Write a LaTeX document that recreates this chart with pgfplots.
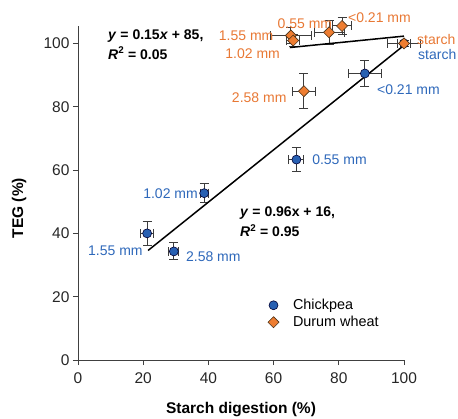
\documentclass[border=0pt]{standalone}
\usepackage{pgfplots}
\pgfplotsset{compat=1.18}
\usepackage{pgfplotstable}
\usepackage{fontspec}
\setmainfont{Liberation Sans}
\definecolor{cpblue}{RGB}{40,96,178}
\definecolor{cptext}{RGB}{46,104,186}
\definecolor{dworange}{RGB}{238,125,49}
\definecolor{dwtext}{RGB}{232,120,52}
\definecolor{errgray}{RGB}{60,60,60}

\pgfplotstableread{
x y ex ey
88.0 90.5 5.0 4.0
67.0 63.3 2.3 3.8
38.7 52.7 1.2 2.9
21.2 40.0 2.0 3.9
29.4 34.3 1.5 2.7
100.0 100.0 2.0 1.0
}\chickpea

\pgfplotstableread{
x y ex ey
81.0 105.5 3.0 2.7
77.0 103.5 4.6 3.8
65.3 102.5 6.2 2.5
66.0 100.9 2.0 2.0
69.3 84.9 3.4 5.5
100.0 100.0 5.0 1.0
}\durum

\begin{document}
\begin{tikzpicture}[x=1pt,y=1pt]
\begin{axis}[
  at={(78pt,58pt)}, anchor=south west,
  scale only axis, width=326pt, height=334pt,
  xmin=0, xmax=100, ymin=0, ymax=105.5,
  axis lines*=left,
  axis line style={line width=0.9pt, color=black!75},
  tick style={line width=0.9pt, color=black!75},
  tick align=outside,
  major tick length=5pt,
  xtick={0,20,...,100}, ytick={0,20,...,100},
  /pgf/number format/assume math mode=true,
  ticklabel style={font=\fontsize{15.5}{18}\selectfont, color=black!85},
  xticklabel style={yshift=-4pt},
  xlabel={\textbf{Starch digestion (\%)}},
  ylabel={\textbf{TEG (\%)}},
  label style={font=\fontsize{15.5}{18}\selectfont},
  xlabel style={at={(axis description cs:0.5,-0.147)}, anchor=center},
  ylabel style={at={(axis description cs:-0.181,0.455)}, anchor=center, rotate=0},
  clip=false,
  legend style={at={(axis cs:57.3,20.5)}, anchor=north west, draw=none, fill=none,
    font=\fontsize{14.4}{17}\selectfont, row sep=1pt, column sep=12pt},
  legend cell align=left,
  error bars/error bar style={line width=1pt, color=errgray},
  error bars/error mark options={rotate=90, mark size=4.5pt, line width=1pt, color=errgray},
]
\addplot[only marks, mark=*, mark size=4.5pt,
  mark options={fill=cpblue, draw=black!80!blue, line width=0.6pt},
  error bars/.cd, x dir=both, x explicit, y dir=both, y explicit]
  table[x=x, y=y, x error=ex, y error=ey] {\chickpea};
\addlegendentry{Chickpea}
\addplot[only marks, mark=square*, mark size=3.9pt,
  mark options={rotate=45, fill=dworange, draw=black!60!brown, line width=0.6pt},
  error bars/.cd, x dir=both, x explicit, y dir=both, y explicit]
  table[x=x, y=y, x error=ex, y error=ey] {\durum};
\addlegendentry{Durum wheat}
\addplot[forget plot, black, line width=1.5pt] coordinates {(21.5,34.6) (100,99.4)};
\addplot[forget plot, black, line width=1.5pt] coordinates {(65,98.7) (100,102.3)};

% equations
\node[anchor=west, font=\fontsize{14}{16}\selectfont\bfseries, align=left, inner sep=0pt] at (axis cs:9.2,102.2) {\textit{y} = 0.15\textit{x} + 85,};
\node[anchor=west, font=\fontsize{14}{16}\selectfont\bfseries, align=left, inner sep=0pt] at (axis cs:9.2,96.9) {\textit{R}\textsuperscript{2} = 0.05};
\node[anchor=west, font=\fontsize{14}{16}\selectfont\bfseries, inner sep=0pt] at (axis cs:49.7,46.4) {\textit{y} = 0.96x + 16,};
\node[anchor=west, font=\fontsize{14}{16}\selectfont\bfseries, inner sep=0pt] at (axis cs:49.7,40.9) {\textit{R}\textsuperscript{2} = 0.95};

% durum labels
\begin{scope}[every node/.style={font=\fontsize{14}{16}\selectfont, text=dwtext, inner sep=0pt}]
\node[anchor=east] at (axis cs:60,102.5) {1.55 mm};
\node[anchor=east] at (axis cs:62,96.8) {1.02 mm};
\node[anchor=center] at (axis cs:69.6,106.3) {0.55 mm};
\node[anchor=west] at (axis cs:82.8,108.2) {<0.21 mm};
\node[anchor=west] at (axis cs:104,101.3) {starch};
\node[anchor=east] at (axis cs:64,83) {2.58 mm};
\end{scope}
% chickpea labels
\begin{scope}[every node/.style={font=\fontsize{14}{16}\selectfont, text=cptext, inner sep=0pt}]
\node[anchor=west] at (axis cs:104.3,96.5) {starch};
\node[anchor=west] at (axis cs:91.7,85.5) {<0.21 mm};
\node[anchor=west] at (axis cs:71.8,63.4) {0.55 mm};
\node[anchor=east] at (axis cs:36.8,52.4) {1.02 mm};
\node[anchor=east] at (axis cs:19.9,34.4) {1.55 mm};
\node[anchor=west] at (axis cs:33.1,32.5) {2.58 mm};
\end{scope}
\end{axis}
\pgfresetboundingbox
\path (0,0) rectangle (458pt,418pt);
\end{tikzpicture}
\end{document}
